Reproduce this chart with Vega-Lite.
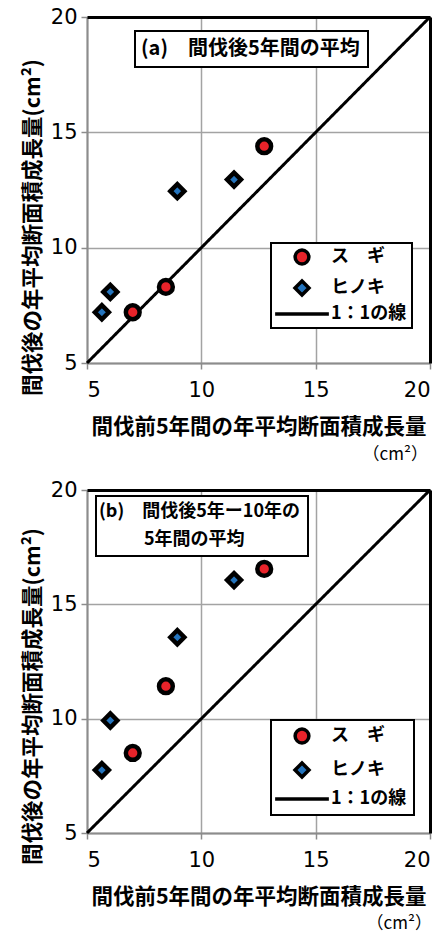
{
  "$schema": "https://vega.github.io/schema/vega-lite/v6.json",
  "background": "white",
  "padding": {"left": 22, "top": 6, "right": 4, "bottom": 0},
  "spacing": 16,
  "config": {
    "font": "Noto Sans CJK JP",
    "view": {"stroke": null},
    "axis": {
      "labelFont": "DejaVu Sans",
      "labelFontSize": 21,
      "labelColor": "black",
      "labelPadding": 4,
      "tickColor": "#8c8c8c",
      "tickSize": 6,
      "tickWidth": 1.5,
      "domainColor": "#8c8c8c",
      "domainWidth": 2,
      "gridColor": "#a3a3a3",
      "gridWidth": 1.5,
      "titleFont": "Noto Sans CJK JP",
      "titleFontSize": 21.5,
      "titleFontWeight": "bold",
      "titleColor": "black"
    },
    "axisX": {"labelPadding": 10, "titlePadding": 16},
    "legend": {"strokeWidth": 2, "strokeColor": "black", "fillColor": "white", "labelColor": "black", "labelFont": "Noto Sans CJK JP", "labelFontWeight": "bold"},
    "title": {"color": "black", "font": "Noto Sans CJK JP"}
  },
  "datasets": {
    "pts_a": [
      {"pre": 7.0, "post": 7.2, "species": "ス　ギ"},
      {"pre": 8.45, "post": 8.3, "species": "ス　ギ"},
      {"pre": 12.75, "post": 14.4, "species": "ス　ギ"},
      {"pre": 5.65, "post": 7.2, "species": "ヒノキ"},
      {"pre": 6.02, "post": 8.08, "species": "ヒノキ"},
      {"pre": 8.95, "post": 12.45, "species": "ヒノキ"},
      {"pre": 11.43, "post": 12.95, "species": "ヒノキ"}
    ],
    "pts_b": [
      {"pre": 7.0, "post": 8.5, "species": "ス　ギ"},
      {"pre": 8.45, "post": 11.42, "species": "ス　ギ"},
      {"pre": 12.75, "post": 16.55, "species": "ス　ギ"},
      {"pre": 5.65, "post": 7.75, "species": "ヒノキ"},
      {"pre": 6.02, "post": 9.92, "species": "ヒノキ"},
      {"pre": 8.95, "post": 13.56, "species": "ヒノキ"},
      {"pre": 11.43, "post": 16.06, "species": "ヒノキ"}
    ],
    "line_a": [
      {"pre": 5, "post": 5, "panel": "(a)　間伐後5年間の平均"},
      {"pre": 20, "post": 20, "panel": "(a)　間伐後5年間の平均"}
    ],
    "line_b": [
      {"pre": 5, "post": 5, "panel": "(b)　間伐後5年ー10年の"},
      {"pre": 20, "post": 20, "panel": "(b)　間伐後5年ー10年の"}
    ]
  },
  "vconcat": [
    {
      "width": 343,
      "height": 346,
      "title": {"text": "（cm²）", "orient": "bottom", "anchor": "end", "fontSize": 17, "fontWeight": "normal", "offset": 9, "dx": -8},
      "layer": [
        {
          "data": {"name": "line_a"},
          "mark": {"type": "line", "color": "black", "strokeWidth": 3},
          "encoding": {
            "x": {"field": "pre", "type": "quantitative", "scale": {"domain": [5, 20], "nice": false, "zero": false},
                  "axis": {"values": [5, 10, 15, 20], "title": "間伐前5年間の年平均断面積成長量", "grid": true}},
            "y": {"field": "post", "type": "quantitative", "scale": {"domain": [5, 20], "nice": false, "zero": false},
                  "axis": {"values": [5, 10, 15, 20], "title": "間伐後の年平均断面積成長量(cm²)", "grid": true, "titleY": 210, "titlePadding": 6}},
            "strokeDash": {"field": "panel", "type": "nominal", "scale": {"range": [[1, 0]]},
                  "legend": {"orient": "none", "legendX": 48, "legendY": 14, "title": null, "padding": 8, "symbolSize": 0, "symbolStrokeWidth": 0, "labelOffset": -22, "labelFontSize": 20, "labelLimit": 400}}
          }
        },
        {
          "data": {"name": "pts_a"},
          "mark": {"type": "point", "filled": true, "stroke": "black", "strokeWidth": 4.5, "opacity": 1},
          "encoding": {
            "x": {"field": "pre", "type": "quantitative", "scale": {"domain": [5, 20], "nice": false, "zero": false}, "axis": null},
            "y": {"field": "post", "type": "quantitative", "scale": {"domain": [5, 20], "nice": false, "zero": false}, "axis": null},
            "shape": {"field": "species", "type": "ordinal", "scale": {"domain": ["ス　ギ", "ヒノキ", "1：1の線"], "range": ["circle", "diamond", "M-3.8,0H3.8"]},
                  "legend": {"orient": "none", "legendX": 184, "legendY": 226, "title": null, "padding": 5, "symbolOffset": 17, "labelOffset": 20, "rowPadding": 3, "labelFontSize": 18, "symbolStrokeColor": "black", "symbolStrokeWidth": 3.5}},
            "fill": {"field": "species", "type": "ordinal", "scale": {"domain": ["ス　ギ", "ヒノキ", "1：1の線"], "range": ["#e8232a", "#2474bd", "black"]}},
            "size": {"field": "species", "type": "ordinal", "scale": {"domain": ["ス　ギ", "ヒノキ", "1：1の線"], "range": [190, 200, 150]}}
          }
        },
        {
          "data": {"name": "line_a"},
          "mark": {"type": "line", "opacity": 0},
          "encoding": {
            "x": {"field": "pre", "type": "quantitative", "scale": {"domain": [5, 20], "nice": false, "zero": false},
                  "axis": {"orient": "top", "labels": false, "ticks": false, "grid": false, "title": null, "domainColor": "black", "domainWidth": 3, "zindex": 1}},
            "y": {"field": "post", "type": "quantitative", "scale": {"domain": [5, 20], "nice": false, "zero": false},
                  "axis": {"orient": "right", "labels": false, "ticks": false, "grid": false, "title": null, "domainColor": "black", "domainWidth": 3, "zindex": 1}}
          }
        }
      ],
      "resolve": {"axis": {"x": "independent", "y": "independent"}}
    },
    {
      "width": 343,
      "height": 343,
      "title": {"text": "（cm²）", "orient": "bottom", "anchor": "end", "fontSize": 17, "fontWeight": "normal", "offset": 8, "dx": -4},
      "layer": [
        {
          "data": {"name": "line_b"},
          "mark": {"type": "line", "color": "black", "strokeWidth": 3},
          "encoding": {
            "x": {"field": "pre", "type": "quantitative", "scale": {"domain": [5, 20], "nice": false, "zero": false},
                  "axis": {"values": [5, 10, 15, 20], "title": "間伐前5年間の年平均断面積成長量", "grid": true}},
            "y": {"field": "post", "type": "quantitative", "scale": {"domain": [5, 20], "nice": false, "zero": false},
                  "axis": {"values": [5, 10, 15, 20], "title": "間伐後の年平均断面積成長量(cm²)", "grid": true, "titleY": 206, "titlePadding": 6}},
            "strokeDash": {"field": "panel", "type": "nominal",
                  "scale": {"domain": ["(b)　間伐後5年ー10年の", "\u200b　　\u20025年間の平均"], "range": [[1, 0], [1, 0]]},
                  "legend": {"orient": "none", "legendX": 9, "legendY": 6, "title": null, "padding": 7, "rowPadding": 10, "symbolSize": 0, "symbolStrokeWidth": 0, "labelOffset": -22, "labelFontSize": 18, "labelLimit": 400}}
          }
        },
        {
          "data": {"name": "pts_b"},
          "mark": {"type": "point", "filled": true, "stroke": "black", "strokeWidth": 4.5, "opacity": 1},
          "encoding": {
            "x": {"field": "pre", "type": "quantitative", "scale": {"domain": [5, 20], "nice": false, "zero": false}, "axis": null},
            "y": {"field": "post", "type": "quantitative", "scale": {"domain": [5, 20], "nice": false, "zero": false}, "axis": null},
            "shape": {"field": "species", "type": "ordinal", "scale": {"domain": ["ス　ギ", "ヒノキ", "1：1の線"], "range": ["circle", "diamond", "M-3.8,0H3.8"]},
                  "legend": {"orient": "none", "legendX": 184, "legendY": 230, "title": null, "padding": 7, "symbolOffset": 15, "labelOffset": 20, "rowPadding": 6, "labelFontSize": 18, "symbolStrokeColor": "black", "symbolStrokeWidth": 3.5}},
            "fill": {"field": "species", "type": "ordinal", "scale": {"domain": ["ス　ギ", "ヒノキ", "1：1の線"], "range": ["#e8232a", "#2474bd", "black"]}},
            "size": {"field": "species", "type": "ordinal", "scale": {"domain": ["ス　ギ", "ヒノキ", "1：1の線"], "range": [190, 200, 150]}}
          }
        },
        {
          "data": {"name": "line_b"},
          "mark": {"type": "line", "opacity": 0},
          "encoding": {
            "x": {"field": "pre", "type": "quantitative", "scale": {"domain": [5, 20], "nice": false, "zero": false},
                  "axis": {"orient": "top", "labels": false, "ticks": false, "grid": false, "title": null, "domainColor": "black", "domainWidth": 3, "zindex": 1}},
            "y": {"field": "post", "type": "quantitative", "scale": {"domain": [5, 20], "nice": false, "zero": false},
                  "axis": {"orient": "right", "labels": false, "ticks": false, "grid": false, "title": null, "domainColor": "black", "domainWidth": 3, "zindex": 1}}
          }
        }
      ],
      "resolve": {"axis": {"x": "independent", "y": "independent"}}
    }
  ],
  "resolve": {
    "scale": {"x": "independent", "y": "independent", "fill": "independent", "shape": "independent", "size": "independent", "strokeDash": "independent"},
    "legend": {"fill": "independent", "shape": "independent", "size": "independent", "strokeDash": "independent"}
  }
}
